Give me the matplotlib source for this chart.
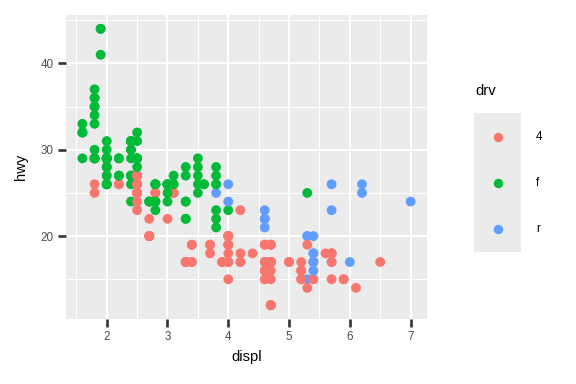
import matplotlib
matplotlib.use("Agg")
import matplotlib.pyplot as plt
from matplotlib.patches import Rectangle

plt.rcParams['font.family'] = ['Liberation Sans', 'DejaVu Sans']

displ = [
    1.8, 1.8, 2.0, 2.0, 2.8, 2.8, 3.1,
    1.8, 1.8, 2.0, 2.0, 2.8, 2.8, 3.1, 3.1, 2.8, 3.1, 4.2,
    5.3, 5.3, 5.3, 5.7, 6.0,
    5.7, 5.7, 6.2, 6.2, 7.0,
    5.3, 5.3, 5.7, 6.5,
    2.4, 2.4, 3.1, 3.5, 3.6,
    2.4, 3.0, 3.3, 3.3, 3.3, 3.3, 3.3, 3.8, 3.8, 3.8, 4.0,
    3.7, 3.7, 3.9, 3.9, 4.7, 4.7, 4.7, 5.2, 5.2,
    3.9, 4.7, 4.7, 4.7, 5.2, 5.7, 5.9,
    4.7, 4.7, 4.7, 4.7, 4.7, 4.7, 5.2, 5.2, 5.7, 5.9,
    4.6, 5.4, 5.4,
    4.0, 4.0, 4.0, 4.0, 4.6, 5.0,
    4.2, 4.2, 4.6, 4.6, 4.6, 5.4, 5.4,
    3.8, 3.8, 4.0, 4.0, 4.6, 4.6, 4.6, 4.6, 5.4,
    1.6, 1.6, 1.6, 1.6, 1.6, 1.8, 1.8, 1.8, 2.0,
    2.4, 2.4, 2.4, 2.4, 2.5, 2.5, 3.3,
    2.0, 2.0, 2.0, 2.0, 2.7, 2.7, 2.7,
    3.0, 3.7, 4.0, 4.7, 4.7, 4.7, 5.7, 6.1,
    4.0, 4.2, 4.4, 4.6,
    5.4, 5.4, 5.4,
    4.0, 4.0, 4.6, 5.0,
    2.4, 2.4, 2.5, 2.5, 3.5, 3.5,
    3.0, 3.0, 3.5,
    3.3, 3.3, 4.0, 5.6,
    3.1, 3.8, 3.8, 3.8, 5.3,
    2.5, 2.5, 2.5, 2.5, 2.5, 2.5,
    2.2, 2.2, 2.5, 2.5, 2.5, 2.5, 2.5, 2.5,
    2.7, 2.7, 3.4, 3.4, 4.0, 4.7,
    2.2, 2.2, 2.4, 2.4, 3.0, 3.0, 3.5,
    2.2, 2.2, 2.4, 2.4, 3.0, 3.0, 3.3,
    1.8, 1.8, 1.8, 1.8, 1.8,
    4.7, 5.7,
    2.7, 2.7, 2.7, 3.4, 3.4, 4.0, 4.0,
    2.0, 2.0, 2.0, 2.0, 2.8,
    1.9, 2.0, 2.0, 2.0, 2.0, 2.5, 2.5, 2.8, 2.8,
    1.9, 1.9, 2.0, 2.0, 2.5, 2.5,
    1.8, 1.8, 2.0, 2.0, 2.8, 2.8, 3.6,
]

hwy = [
    29, 29, 31, 30, 26, 26, 27,
    26, 25, 28, 27, 25, 25, 25, 25, 24, 25, 23,
    20, 15, 20, 17, 17,
    26, 23, 26, 25, 24,
    19, 14, 15, 17,
    27, 30, 26, 29, 26,
    24, 24, 22, 22, 24, 24, 17, 22, 21, 23, 23,
    19, 18, 17, 17, 19, 19, 12, 17, 15,
    17, 17, 12, 17, 16, 18, 15,
    16, 12, 17, 17, 12, 17, 15, 16, 17, 15,
    17, 17, 18,
    17, 19, 17, 19, 19, 17,
    17, 17, 16, 16, 17, 15, 17,
    26, 25, 26, 24, 21, 22, 23, 22, 20,
    33, 32, 32, 29, 32, 34, 36, 36, 29,
    26, 27, 30, 31, 26, 26, 28,
    26, 29, 28, 27, 24, 24, 24,
    22, 19, 20, 17, 12, 19, 18, 14,
    15, 18, 18, 15,
    17, 16, 18,
    17, 19, 19, 17,
    29, 27, 31, 32, 27, 26,
    26, 25, 25,
    17, 17, 20, 18,
    26, 26, 27, 28, 25,
    25, 24, 27, 25, 26, 23,
    26, 26, 26, 26, 27, 25, 25, 27,
    20, 20, 19, 17, 20, 17,
    29, 27, 31, 31, 26, 26, 28,
    27, 29, 31, 31, 26, 26, 27,
    30, 33, 35, 37, 35,
    15, 18,
    20, 20, 22, 17, 19, 18, 20,
    29, 26, 29, 29, 24,
    44, 29, 26, 29, 29, 29, 29, 23, 24,
    44, 41, 29, 26, 28, 29,
    29, 29, 28, 29, 26, 26, 26,
]

drv = [
    'f', 'f', 'f', 'f', 'f', 'f', 'f',
    '4', '4', '4', '4', '4', '4', '4', '4', '4', '4', '4',
    'r', 'r', 'r', 'r', 'r',
    'r', 'r', 'r', 'r', 'r',
    '4', '4', '4', '4',
    'f', 'f', 'f', 'f', 'f',
    'f', 'f', 'f', 'f', 'f', 'f', 'f', 'f', 'f', 'f', 'f',
    '4', '4', '4', '4', '4', '4', '4', '4', '4',
    '4', '4', '4', '4', '4', '4', '4',
    '4', '4', '4', '4', '4', '4', '4', '4', '4', '4',
    'r', 'r', 'r',
    '4', '4', '4', '4', '4', '4',
    '4', '4', '4', '4', '4', '4', '4',
    'r', 'r', 'r', 'r', 'r', 'r', 'r', 'r', 'r',
    'f', 'f', 'f', 'f', 'f', 'f', 'f', 'f', 'f',
    'f', 'f', 'f', 'f', 'f', 'f', 'f',
    'f', 'f', 'f', 'f', 'f', 'f', 'f',
    '4', '4', '4', '4', '4', '4', '4', '4',
    '4', '4', '4', '4',
    'r', 'r', 'r',
    '4', '4', '4', '4',
    'f', 'f', 'f', 'f', 'f', 'f',
    'f', 'f', 'f',
    '4', '4', '4', '4',
    'f', 'f', 'f', 'f', 'f',
    '4', '4', '4', '4', '4', '4',
    '4', '4', '4', '4', '4', '4', '4', '4',
    '4', '4', '4', '4', '4', '4',
    'f', 'f', 'f', 'f', 'f', 'f', 'f',
    'f', 'f', 'f', 'f', 'f', 'f', 'f',
    'f', 'f', 'f', 'f', 'f',
    '4', '4',
    '4', '4', '4', '4', '4', '4', '4',
    'f', 'f', 'f', 'f', 'f',
    'f', 'f', 'f', 'f', 'f', 'f', 'f', 'f', 'f',
    'f', 'f', 'f', 'f', 'f', 'f',
    'f', 'f', 'f', 'f', 'f', 'f', 'f',
]

levels = ['4', 'f', 'r']
palette = {'4': '#F8766D', 'f': '#00BA38', 'r': '#619CFF'}
x_ticks = [2, 3, 4, 5, 6, 7]
y_ticks = [20, 30, 40]

W, H = 576, 384
fig = plt.figure(figsize=(W / 100, H / 100), dpi=100)
L, R, T, B = 66, 427, 15, 319
ax = fig.add_axes([L / W, 1 - B / H, (R - L) / W, (B - T) / H])
ax.set_facecolor('#EBEBEB')
for s in ax.spines.values():
    s.set_visible(False)

xmin, xmax = min(displ), max(displ)
ymin, ymax = min(hwy), max(hwy)
xpad = (xmax - xmin) * 0.05
ypad = (ymax - ymin) * 0.05
ax.set_xlim(xmin - xpad, xmax + xpad)
ax.set_ylim(ymin - ypad, ymax + ypad)

# grid
for v in [1.5, 2.5, 3.5, 4.5, 5.5, 6.5]:
    ax.axvline(v, color='white', lw=0.75, zorder=0.5)
for v in [15, 25, 35, 45]:
    ax.axhline(v, color='white', lw=0.75, zorder=0.5)
for v in x_ticks:
    ax.axvline(v, color='white', lw=1.5, zorder=0.6)
for v in y_ticks:
    ax.axhline(v, color='white', lw=1.5, zorder=0.6)

cols = [palette[d] for d in drv]
ax.scatter(displ, hwy, c=cols, s=50, linewidths=0, zorder=2)

ax.set_xticks(x_ticks)
ax.set_xticklabels([str(t) for t in x_ticks])
ax.set_yticks(y_ticks)
ax.set_yticklabels([str(t) for t in y_ticks])
ax.tick_params(axis='both', length=5.5, width=1.9, color='#333333',
               labelcolor='#4D4D4D', labelsize=8.4, pad=3.5)
ax.set_xlabel('displ', fontsize=10.6, color='black', labelpad=5)
ax.set_ylabel('hwy', fontsize=10.6, color='black', labelpad=9)

# legend
key_left, key_right, key_top, key_bot = 474, 521, 113, 252
fig.patches.append(Rectangle((key_left / W, 1 - key_bot / H),
                             (key_right - key_left) / W, (key_bot - key_top) / H,
                             transform=fig.transFigure, facecolor='#EBEBEB',
                             edgecolor='none', zorder=0))
fig.text(475 / W, 1 - 91 / H, 'drv', fontsize=10.6, color='black',
         ha='left', va='center')
key_ys = [137, 183, 229]
for lev, ky in zip(levels, key_ys):
    fig.add_artist(plt.Line2D([498 / W], [1 - ky / H], marker='o',
                              markersize=6.8, markeredgewidth=0,
                              color=palette[lev], transform=fig.transFigure,
                              linestyle='none'))
    fig.text(536 / W, 1 - ky / H, lev, fontsize=8.4, color='black',
             ha='left', va='center')

fig.savefig('out.png', dpi=100, facecolor='white')
